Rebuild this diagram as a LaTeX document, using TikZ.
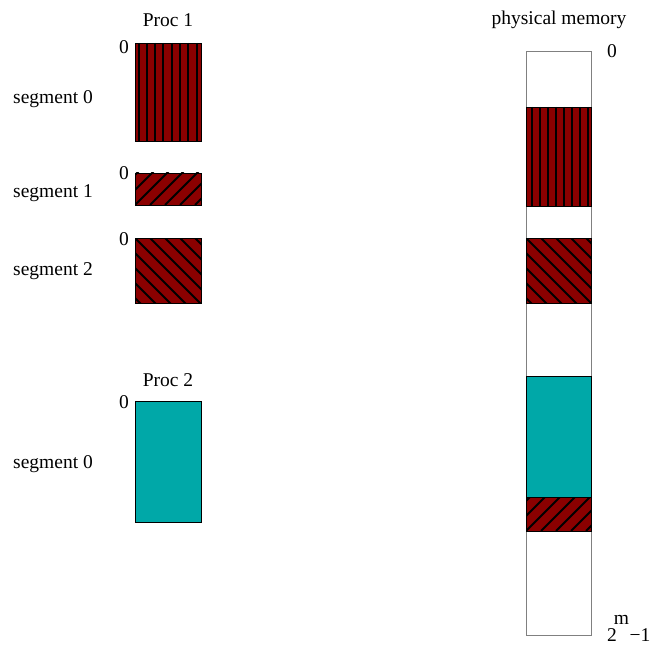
\documentclass[tikz,border=0pt]{standalone}
\usepackage{fontspec}
\setmainfont{Liberation Serif}
\definecolor{segred}{RGB}{139,0,0}
\definecolor{segteal}{RGB}{0,168,168}
\definecolor{memgray}{RGB}{128,128,128}
\tikzset{
  lbl/.style={font=\fontsize{19.5}{22}\selectfont, inner sep=0pt},
  hatch/.style={line width=2pt, black},
  blk/.style={draw=black, line width=0.8pt},
}
% #1 name, #2 x1, #3 y1, #4 x2, #5 y2, #6 first offset, #7 spacing
\newcommand\vblock[7]{%
  \fill[segred] (#2,#3) rectangle (#4,#5);
  \begin{scope}
    \clip (#2,#3) rectangle (#4,#5);
    \foreach \k in {0,...,9} {\draw[hatch] ({#2+#6+#7*\k},#3) -- ({#2+#6+#7*\k},#5);}
  \end{scope}
  \node[blk, minimum width={#4-#2}, minimum height={#5-#3}, inner sep=0pt, anchor=north west] (#1) at (#2,#3) {};
}
\newcommand\neblock[5]{%
  \fill[segred] (#2,#3) rectangle (#4,#5);
  \begin{scope}
    \clip (#2,#3) rectangle (#4,#5);
    \foreach \k in {-6,...,10} {\draw[hatch] ({#2+15*\k},#5) -- ({#2+15*\k+80},{#5-80});}
  \end{scope}
  \node[blk, minimum width={#4-#2}, minimum height={#5-#3}, inner sep=0pt, anchor=north west] (#1) at (#2,#3) {};
}
\newcommand\nwblock[5]{%
  \fill[segred] (#2,#3) rectangle (#4,#5);
  \begin{scope}
    \clip (#2,#3) rectangle (#4,#5);
    \foreach \k in {-6,...,10} {\draw[hatch] ({#2+15*\k},#3) -- ({#2+15*\k+80},{#3+80});}
  \end{scope}
  \node[blk, minimum width={#4-#2}, minimum height={#5-#3}, inner sep=0pt, anchor=north west] (#1) at (#2,#3) {};
}
\newcommand\tblock[5]{%
  \node[blk, fill=segteal, minimum width={#4-#2}, minimum height={#5-#3}, inner sep=0pt, anchor=north west] (#1) at (#2,#3) {};
}
\begin{document}
\begin{tikzpicture}[x=1pt,y=-1pt]
\useasboundingbox (0,0) rectangle (652,644);
% Process 1
\node[lbl] (p1) at (168,20) {Proc 1};
\vblock{p1s0}{135}{43}{201}{141}{3.5}{8.3}
\neblock{p1s1}{135}{173}{201}{205}
\nwblock{p1s2}{135}{238}{201}{303}
\node[lbl, anchor=north east] (z0) at (129,40) {0};
\node[lbl, anchor=north east] (z1) at (129,166) {0};
\node[lbl, anchor=north east] (z2) at (129,232) {0};
\node[lbl, anchor=west] (s0) at (13,99) {segment 0};
\node[lbl, anchor=west] (s1) at (13,193) {segment 1};
\node[lbl, anchor=west] (s2) at (13,271) {segment 2};
% Process 2
\node[lbl] (p2) at (168,380) {Proc 2};
\tblock{p2s0}{135}{401}{201}{522}
\node[lbl, anchor=north east] (z3) at (129,395) {0};
\node[lbl, anchor=west] (s3) at (13,464) {segment 0};
% Physical memory
\node[lbl] (pm) at (559,20) {physical memory};
\node[draw=memgray, line width=1.2pt, minimum width=65pt, minimum height=584pt, inner sep=0pt, anchor=north west] (mem) at (526,51) {};
\vblock{m1}{526}{107}{591}{206}{5.5}{8}
\nwblock{m2}{526}{238}{591}{303}
\tblock{m3}{526}{376}{591}{497}
\neblock{m4}{526}{497}{591}{531}
\node[lbl, anchor=north west] (mz) at (607,44) {0};
\node[lbl, anchor=base west] (mmax) at (607,641) {2\hspace{-3pt}\raisebox{17pt}{m}\hspace{0.5pt}−1};
\end{tikzpicture}
\end{document}
